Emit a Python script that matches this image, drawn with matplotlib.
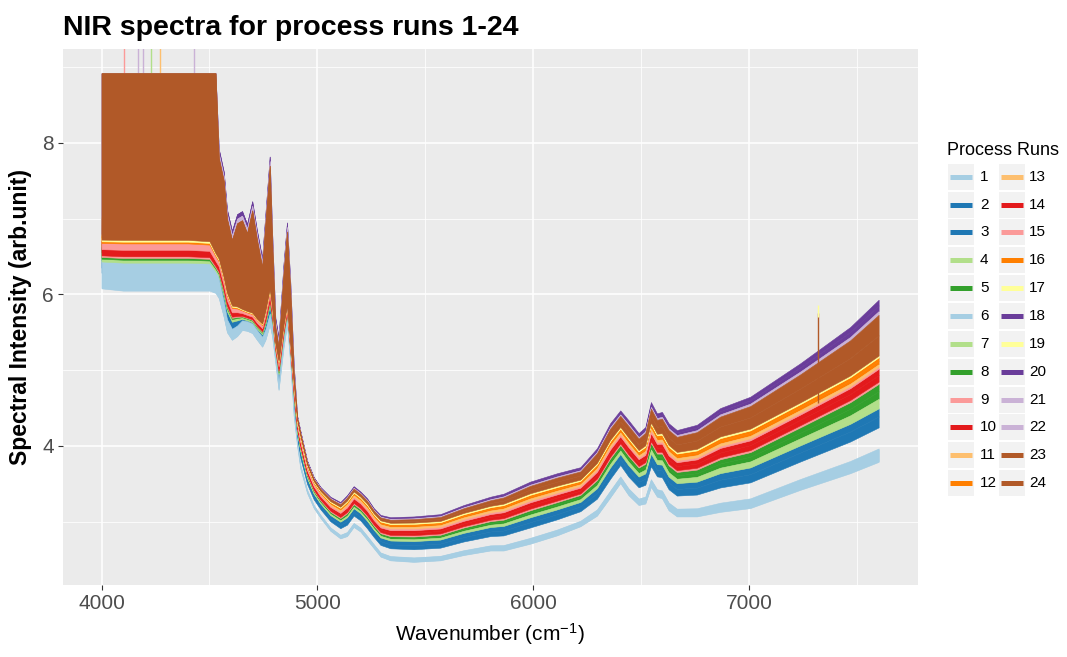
import numpy as np
import matplotlib
matplotlib.use("Agg")
import matplotlib.pyplot as plt
from matplotlib.patches import Rectangle
from matplotlib.lines import Line2D

plt.rcParams['font.family'] = ['Liberation Sans', 'DejaVu Sans']
plt.rcParams['mathtext.fontset'] = 'custom'
plt.rcParams['mathtext.rm'] = 'Liberation Sans'
plt.rcParams['mathtext.it'] = 'Liberation Sans:italic'
plt.rcParams['mathtext.bf'] = 'Liberation Sans:bold'

# ---------------- data ----------------
runs = [str(i) for i in range(1, 25)]
run_colors = ["#A6CEE3", "#1F78B4", "#1F78B4", "#B2DF8A", "#33A02C", "#A6CEE3",
              "#B2DF8A", "#33A02C", "#FB9A99", "#E31A1C", "#FDBF6F", "#FF7F00",
              "#FDBF6F", "#E31A1C", "#FB9A99", "#FF7F00", "#FFFF99", "#6A3D9A",
              "#FFFF99", "#6A3D9A", "#CAB2D6", "#CAB2D6", "#B15928", "#B15928"]

wavenumber = [4000, 4100, 4200, 4300, 4400, 4500, 4528, 4543, 4566, 4581, 4604, 4628,
              4651, 4674, 4698, 4720, 4744, 4759, 4779, 4790, 4805, 4820, 4843, 4859,
              4874, 4890, 4906, 4921, 4952, 4983, 5014, 5060, 5106, 5137, 5168, 5199,
              5230, 5261, 5292, 5338, 5446, 5569, 5677, 5801, 5862, 5986, 6110, 6218,
              6295, 6356, 6403, 6441, 6488, 6519, 6545, 6573, 6596, 6627, 6665, 6758,
              6866, 7005, 7236, 7468, 7600]

# lower edge of the whole stack (run 1)
stack_bottom = [6.08, 6.05, 6.05, 6.05, 6.05, 6.05, 6.02, 5.95, 5.70, 5.50, 5.40, 5.45,
                5.53, 5.52, 5.49, 5.40, 5.31, 5.40, 5.60, 5.45, 5.10, 4.74, 5.30, 5.60,
                5.10, 4.40, 4.00, 3.70, 3.38, 3.18, 3.05, 2.88, 2.78, 2.81, 2.93, 2.87,
                2.76, 2.65, 2.54, 2.49, 2.47, 2.49, 2.56, 2.62, 2.62, 2.71, 2.82, 2.94,
                3.08, 3.32, 3.51, 3.35, 3.22, 3.24, 3.46, 3.33, 3.31, 3.15, 3.07, 3.07,
                3.13, 3.18, 3.42, 3.64, 3.79]

# upper edge of the whole stack (runs 18/20) without the noise bursts
stack_top = [6.82, 6.82, 6.82, 6.82, 6.82, 6.80, 6.62, 6.55, 6.30, 6.10, 5.92, 5.90,
             5.85, 5.82, 5.80, 5.72, 5.66, 5.85, 6.15, 5.90, 5.40, 5.18, 5.65, 5.90,
             5.40, 4.90, 4.40, 4.20, 3.81, 3.59, 3.46, 3.33, 3.26, 3.35, 3.47, 3.40,
             3.31, 3.18, 3.09, 3.06, 3.07, 3.10, 3.22, 3.33, 3.37, 3.53, 3.64, 3.72,
             3.97, 4.30, 4.47, 4.34, 4.17, 4.25, 4.58, 4.43, 4.45, 4.30, 4.21, 4.28,
             4.50, 4.65, 5.09, 5.57, 5.93]

# top of the noisy bursts of the late runs (nan where there are none)
nan = float('nan')
noise_envelope = [8.92, 8.92, 8.92, 8.92, 8.92, 8.92, 8.92, 7.80, 7.50, 7.00, 6.72, 6.94,
                  6.98, 6.81, 7.11, 6.72, 6.36, 6.94, 7.70, 6.72, 5.57, 5.31, 6.28, 6.83,
                  6.06, 4.96] + [nan] * 39
# general noise amplitude of all spectra
noise_amp = [0.32, 0.32, 0.32, 0.32, 0.32, 0.32, 0.30, 0.20, 0.15, 0.12, 0.10, 0.10,
             0.10, 0.10, 0.10, 0.10, 0.10, 0.10, 0.10, 0.10, 0.10, 0.08, 0.08, 0.08,
             0.06, 0.04] + [0.0] * 39
saturation = 8.92

# position of each run inside the stack (fraction of stack height) near 5400 and at 7600 cm-1
frac_lo_5400 = [0.00, 0.28, 0.37, 0.46, 0.50, 0.01, 0.48, 0.53, 0.56, 0.59, 0.725, 0.775,
                0.75, 0.645, 0.70, 0.81, 0.84, 0.96, 0.855, 0.98, 0.94, 0.95, 0.87, 0.905]
frac_hi_5400 = [0.10, 0.37, 0.46, 0.48, 0.53, 0.09, 0.50, 0.56, 0.59, 0.645, 0.75, 0.81,
                0.775, 0.70, 0.725, 0.84, 0.855, 0.98, 0.87, 1.00, 0.95, 0.96, 0.905, 0.94]
frac_lo_7600 = [0.00, 0.213, 0.28, 0.33, 0.389, 0.005, 0.36, 0.435, 0.481, 0.495, 0.582, 0.602,
                0.592, 0.535, 0.574, 0.624, 0.645, 0.93, 0.65, 0.965, 0.907, 0.918, 0.656, 0.78]
frac_hi_7600 = [0.083, 0.28, 0.33, 0.36, 0.435, 0.075, 0.389, 0.481, 0.495, 0.535, 0.592, 0.624,
                0.602, 0.574, 0.582, 0.645, 0.65, 0.965, 0.656, 1.00, 0.918, 0.93, 0.78, 0.907]
# how far above the noise envelope a noisy run reaches (nan = not noisy)
noise_offset = [nan] * 17 + [0.12, nan, 0.12, 0.06, 0.06, 0.0, 0.0]

# isolated spikes: wavenumber, bottom, top, run
spike_wavenumber = [4103, 4171, 4193, 4227, 4273, 4427, 7321, 7321]
spike_bottom = [8.90, 8.90, 8.90, 8.90, 8.90, 8.90, 4.57, 5.70]
spike_top = [9.30, 9.30, 9.30, 9.30, 9.30, 9.30, 5.75, 5.86]
spike_run = [15, 21, 22, 4, 11, 22, 23, 19]

# ---------------- figure ----------------
W, H = 1067, 657
fig = plt.figure(figsize=(W / 100, H / 100), dpi=100)
L, R, T, B = 62.7, 917.5, 49, 585
ax = fig.add_axes([L / W, 1 - B / H, (R - L) / W, (B - T) / H])
ax.set_facecolor("#EBEBEB")
for s in ax.spines.values():
    s.set_visible(False)

wn = np.array(wavenumber, float)
bot = np.array(stack_bottom)
top = np.array(stack_top)
spread = top - bot
env = np.array(noise_envelope)
amp = np.array(noise_amp)
w = np.clip((wn - 5400) / (7600 - 5400), 0, 1)

for i, run in enumerate(runs):
    flo = frac_lo_5400[i] * (1 - w) + frac_lo_7600[i] * w
    fhi = frac_hi_5400[i] * (1 - w) + frac_hi_7600[i] * w
    lo = bot + flo * spread
    hi = bot + fhi * spread + amp
    if not np.isnan(noise_offset[i]):
        hi = np.fmax(hi, env + noise_offset[i])
    hi = np.minimum(hi, saturation)
    ax.fill_between(wn, lo, hi, color=run_colors[i], lw=0.4, edgecolor=run_colors[i], zorder=3)

for xs, y0, y1, r in zip(spike_wavenumber, spike_bottom, spike_top, spike_run):
    ax.vlines(xs, y0, y1, color=run_colors[r - 1], lw=1.0, zorder=2.9 if y0 > 8 else 4)

ax.set_xlim(3820, 7780)
ax.set_ylim(2.165, 9.24)
ax.set_xticks([4000, 5000, 6000, 7000])
ax.set_yticks([4, 6, 8])
ax.set_xticks([4500, 5500, 6500, 7500], minor=True)
ax.set_yticks([3, 5, 7, 9], minor=True)
ax.grid(which='major', color='white', lw=1.1, zorder=1)
ax.grid(which='minor', color='white', lw=0.55, zorder=1)
ax.set_axisbelow(True)
ax.tick_params(which='major', length=3.5, width=0.8, color='#333333',
               labelsize=15, labelcolor='#4D4D4D', pad=3)
ax.tick_params(which='minor', length=0)

ax.set_xlabel("Wavenumber (cm$^{-1}$)", fontsize=15, labelpad=6)
ax.set_ylabel("Spectral Intensity (arb.unit)", fontsize=16.5, fontweight='bold', labelpad=7)
fig.text(L / W, 1 - 28 / H, "NIR spectra for process runs 1-24", fontsize=20.5,
         fontweight='bold', va='center', ha='left')

# ---------------- legend (ggplot style) ----------------
fig.text(947 / W, 1 - 151 / H, "Process Runs", fontsize=13, va='center', ha='left')
row0, dy = 176.7, 27.85
cols = [(948, 974, 980), (999, 1025, 1029)]
for i, run in enumerate(runs):
    c, r = divmod(i, 12)
    x0, x1, xt = cols[c]
    yc = row0 + r * dy
    fig.patches.append(Rectangle((x0 / W, 1 - (yc + 13) / H), (x1 - x0) / W, 26 / H,
                                 transform=fig.transFigure, facecolor="#F2F2F2",
                                 edgecolor='none'))
    fig.lines.append(Line2D([(x0 + 2) / W, (x1 - 2) / W], [1 - yc / H, 1 - yc / H],
                            transform=fig.transFigure, color=run_colors[i], lw=3.6,
                            solid_capstyle='butt'))
    fig.text(xt / W, 1 - yc / H, run, fontsize=11, va='center', ha='left')

fig.savefig("out.png", dpi=100)
